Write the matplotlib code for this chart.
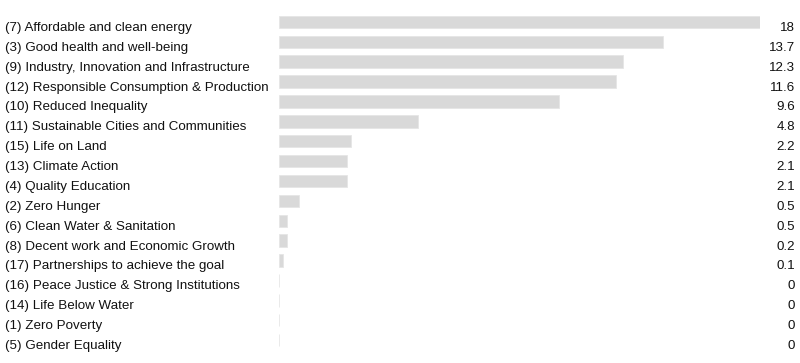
import matplotlib.pyplot as plt
import matplotlib.transforms as mtransforms

categories = [
    "(7) Affordable and clean energy",
    "(3) Good health and well-being",
    "(9) Industry, Innovation and Infrastructure",
    "(12) Responsible Consumption & Production",
    "(10) Reduced Inequality",
    "(11) Sustainable Cities and Communities",
    "(15) Life on Land",
    "(13) Climate Action",
    "(4) Quality Education",
    "(2) Zero Hunger",
    "(6) Clean Water & Sanitation",
    "(8) Decent work and Economic Growth",
    "(17) Partnerships to achieve the goal",
    "(16) Peace Justice & Strong Institutions",
    "(14) Life Below Water",
    "(1) Zero Poverty",
    "(5) Gender Equality",
]
# bar lengths as drawn
bar_values = [18, 14.37, 12.87, 12.61, 10.48, 5.2, 2.69, 2.54, 2.54, 0.75, 0.3, 0.3, 0.15, 0, 0, 0, 0]
# numbers printed at the right
value_labels = ["18", "13.7", "12.3", "11.6", "9.6", "4.8", "2.2", "2.1", "2.1", "0.5", "0.5", "0.2", "0.1", "0", "0", "0", "0"]

plt.rcParams['font.family'] = ['Liberation Sans', 'DejaVu Sans']

W, H = 800, 363
fig = plt.figure(figsize=(W / 100, H / 100), dpi=100)
ax = fig.add_axes([279 / W, 1 - 350 / H, (760 - 279) / W, 338 / H])

y = list(range(len(categories)))
ax.barh(y, bar_values, height=0.63, color="#d9d9d9", edgecolor="#e6e6e6", linewidth=0.6)
ax.set_xlim(0, 18)
ax.set_ylim(len(categories) - 0.5, -0.5)
ax.axis("off")

trans = mtransforms.blended_transform_factory(fig.transFigure, ax.transData)
for i, (cat, lab) in enumerate(zip(categories, value_labels)):
    ax.text(5 / W, i + 0.45, cat, transform=trans, ha="left", va="baseline",
            fontsize=9.6, color="#111111")
    ax.text(795 / W, i + 0.45, lab, transform=trans, ha="right", va="baseline",
            fontsize=9.6, color="#111111")

fig.savefig("out.png", dpi=100)
